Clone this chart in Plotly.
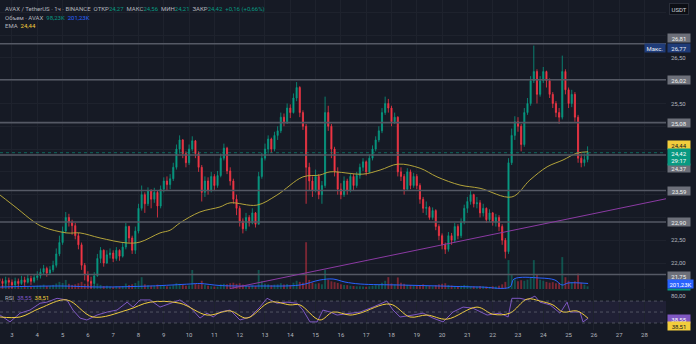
import plotly.graph_objects as go

# ---------------- data ----------------
start_day = 2.5        # first candle: day 2, 12:00
candle_step = 0.125    # 3-hour candles, expressed in days
first_open = 21.66

closes = [
    21.60, 21.55, 21.62, 21.58, 21.52, 21.60, 21.55, 21.63, 21.58, 21.66,
    21.60, 21.68, 21.72, 21.80, 21.88, 21.78, 21.85, 21.95, 22.20, 22.45,
    22.70, 23.00, 22.90, 22.82, 22.60, 22.40, 21.95, 21.75, 21.60, 21.55,
    21.72, 22.10, 22.28, 22.00, 22.18, 22.22, 22.10, 22.28, 22.15, 22.35,
    22.80, 22.55, 22.28, 22.70, 23.20, 23.50, 23.30, 23.58, 23.40, 23.55,
    23.25, 23.62, 23.80, 23.72, 23.85, 24.10, 24.50, 24.70, 24.40, 24.20,
    24.50, 24.68, 24.40, 24.10, 23.55, 23.80, 23.60, 23.90, 23.70, 23.92,
    24.30, 24.52, 24.02, 23.80, 23.40, 23.20, 22.92, 22.75, 23.00, 22.88,
    23.10, 22.85, 23.90, 24.30, 24.50, 24.72, 24.50, 24.80, 24.90, 25.20,
    25.10, 25.40, 25.30, 25.62, 25.85, 25.30, 25.00, 24.10, 23.80, 23.60,
    23.90, 23.50, 23.70, 25.30, 25.00, 24.50, 24.00, 23.62, 23.50, 23.80,
    23.60, 23.90, 23.70, 23.92, 24.10, 24.22, 24.00, 24.30, 24.50, 24.70,
    24.90, 25.30, 25.50, 25.40, 25.10, 25.20, 24.00, 23.90, 23.62, 24.00,
    23.70, 23.90, 23.70, 23.40, 23.20, 23.22, 23.00, 23.15, 22.80, 22.60,
    22.40, 22.30, 22.60, 22.50, 22.80, 22.60, 22.90, 23.20, 23.35, 23.50,
    23.30, 23.32, 23.10, 23.20, 22.95, 23.10, 22.90, 23.00, 22.80, 22.50,
    22.25, 24.20, 24.80, 25.10, 25.00, 24.60, 25.30, 25.50, 26.00, 26.20,
    25.70, 26.00, 26.20, 26.00, 25.70, 25.50, 25.30, 25.20, 26.20, 25.80,
    25.50, 25.70, 25.20, 24.30, 24.20, 24.27, 24.42,
]
highs = [
    21.70, 21.66, 21.70, 21.68, 21.64, 21.68, 21.66, 21.72, 21.70, 21.75,
    21.72, 21.76, 21.82, 21.88, 21.96, 21.92, 21.93, 22.05, 22.32, 22.60,
    22.80, 23.12, 23.08, 22.95, 22.88, 22.66, 22.45, 22.00, 21.82, 21.70,
    21.80, 22.20, 22.35, 22.30, 22.28, 22.32, 22.28, 22.35, 22.30, 22.45,
    22.88, 22.82, 22.60, 22.80, 23.30, 23.70, 23.55, 23.66, 23.62, 23.65,
    23.60, 23.70, 23.88, 23.90, 23.95, 24.20, 24.60, 24.80, 24.72, 24.45,
    24.60, 24.78, 24.70, 24.45, 24.15, 23.90, 23.88, 24.00, 23.95, 24.02,
    24.40, 24.62, 24.55, 24.10, 23.85, 23.50, 23.25, 22.98, 23.10, 23.05,
    23.20, 23.12, 24.00, 24.42, 24.62, 24.80, 24.75, 24.88, 25.00, 25.30,
    25.28, 25.50, 25.48, 25.72, 25.97, 25.88, 25.35, 25.05, 24.20, 23.90,
    24.05, 23.95, 23.80, 25.65, 25.45, 25.05, 24.55, 24.10, 23.75, 23.90,
    23.85, 23.98, 23.95, 24.00, 24.18, 24.30, 24.25, 24.38, 24.58, 24.78,
    25.00, 25.40, 25.65, 25.60, 25.45, 25.30, 25.22, 24.10, 23.95, 24.08,
    24.05, 23.98, 23.95, 23.75, 23.45, 23.35, 23.25, 23.22, 23.18, 22.85,
    22.65, 22.45, 22.68, 22.66, 22.88, 22.85, 22.98, 23.28, 23.45, 23.58,
    23.52, 23.45, 23.38, 23.30, 23.22, 23.18, 23.12, 23.08, 23.05, 22.85,
    22.55, 24.30, 24.95, 25.22, 25.20, 25.05, 25.40, 25.62, 26.10, 26.77,
    26.25, 26.10, 26.30, 26.22, 26.05, 25.75, 25.55, 25.40, 26.55, 26.25,
    25.85, 25.80, 25.75, 25.25, 24.40, 24.40, 24.56,
]
lows = [
    21.50, 21.47, 21.50, 21.50, 21.45, 21.48, 21.47, 21.52, 21.50, 21.55,
    21.52, 21.56, 21.62, 21.66, 21.74, 21.70, 21.74, 21.80, 21.90, 22.15,
    22.40, 22.65, 22.80, 22.62, 22.52, 22.30, 21.85, 21.62, 21.50, 21.45,
    21.50, 21.70, 22.00, 21.92, 21.98, 22.10, 22.02, 22.05, 22.05, 22.12,
    22.30, 22.45, 22.20, 22.20, 22.65, 23.15, 23.10, 23.25, 23.20, 23.32,
    23.00, 23.20, 23.55, 23.60, 23.62, 23.80, 24.05, 24.40, 24.30, 24.10,
    24.15, 24.45, 24.30, 24.00, 23.35, 23.45, 23.50, 23.55, 23.60, 23.65,
    23.88, 24.25, 23.95, 23.70, 23.30, 23.05, 22.80, 22.65, 22.70, 22.80,
    22.85, 22.78, 22.85, 23.85, 24.25, 24.40, 24.42, 24.45, 24.70, 24.85,
    25.00, 25.05, 25.18, 25.28, 25.55, 25.20, 24.92, 23.30, 23.60, 23.45,
    23.55, 23.40, 23.30, 23.65, 24.90, 24.30, 23.90, 23.50, 23.40, 23.45,
    23.50, 23.55, 23.60, 23.65, 23.85, 24.02, 23.92, 23.98, 24.25, 24.45,
    24.65, 24.85, 25.25, 25.30, 25.00, 25.05, 23.90, 23.80, 23.50, 23.58,
    23.62, 23.65, 23.62, 23.30, 23.10, 23.05, 22.95, 22.95, 22.72, 22.50,
    22.30, 22.20, 22.25, 22.40, 22.45, 22.52, 22.55, 22.85, 23.10, 23.28,
    23.22, 23.20, 23.00, 23.02, 22.88, 22.90, 22.82, 22.80, 22.70, 22.40,
    22.10, 22.20, 24.15, 24.70, 24.88, 24.45, 24.55, 25.25, 25.45, 25.95,
    25.50, 25.65, 25.95, 25.85, 25.62, 25.40, 25.20, 25.05, 25.15, 25.70,
    25.40, 25.42, 25.10, 24.20, 24.10, 24.12, 24.21,
]
volumes_k = [
    90, 140, 170, 110, 80, 100, 70, 90, 120, 80,
    70, 100, 120, 130, 160, 110, 120, 150, 200, 260,
    220, 330, 190, 150, 170, 210, 260, 190, 160, 180,
    140, 200, 150, 110, 120, 90, 80, 100, 90, 110,
    200, 150, 170, 220, 300, 430, 170, 140, 120, 110,
    160, 130, 120, 100, 90, 140, 210, 190, 150, 120,
    130, 690, 190, 170, 300, 160, 120, 100, 90, 90,
    170, 190, 170, 210, 230, 190, 210, 160, 120, 110,
    130, 110, 690, 280, 190, 170, 140, 160, 170, 210,
    160, 180, 150, 230, 300, 260, 230, 1700, 330, 230,
    190, 210, 170, 700, 330, 280, 250, 220, 170, 150,
    140, 120, 110, 100, 100, 90, 80, 100, 120, 140,
    170, 230, 300, 430, 200, 170, 420, 230, 190, 150,
    140, 120, 110, 150, 170, 120, 110, 100, 140, 170,
    190, 210, 150, 130, 110, 100, 120, 150, 130, 110,
    100, 90, 110, 100, 90, 80, 100, 90, 120, 170,
    260, 1050, 520, 350, 280, 320, 300, 340, 430, 1050,
    520, 340, 300, 260, 230, 250, 210, 230, 1160, 430,
    300, 250, 280, 560, 230, 160, 98.23,
]

# EMA on price (day, value)
ema_points = [
    (2.53, 23.49), (3.20, 23.20), (3.83, 22.92), (4.23, 22.79), (5.17, 22.66),
    (5.69, 22.66), (6.48, 22.55), (7.55, 22.44), (8.06, 22.46), (8.85, 22.66),
    (9.25, 22.72), (9.64, 22.88), (10.43, 23.12), (11.22, 23.23), (11.62, 23.32),
    (12.68, 23.27), (13.47, 23.49), (14.50, 23.89), (15.17, 23.93), (15.57, 24.00),
    (16.87, 23.95), (17.55, 24.04), (18.26, 24.17), (19.13, 24.08), (19.80, 23.89),
    (20.71, 23.71), (21.50, 23.64), (22.76, 23.45), (23.47, 23.82), (24.15, 24.11),
    (24.78, 24.26), (25.33, 24.41), (25.77, 24.44),
]
# volume moving average (day, thousands)
vol_ma_points = [
    (2.53, 73), (4.90, 109), (6.48, 73), (8.46, 109), (10.04, 182), (10.43, 200),
    (11.22, 127), (12.80, 109), (14.38, 145), (15.17, 327), (15.69, 363),
    (16.16, 254), (16.76, 182), (18.34, 145), (19.92, 109), (21.50, 73),
    (22.68, 73), (22.84, 363), (23.87, 400), (24.46, 327), (24.74, 145),
    (24.98, 218), (25.77, 201.23),
]
# RSI (day, value)
rsi_points = [
    (2.53, 44.5), (2.92, 32), (3.32, 48), (3.71, 53.6), (4.11, 66), (4.38, 68),
    (4.78, 75), (5.17, 72), (5.41, 53.6), (5.69, 39), (5.96, 35.5), (6.36, 44.5),
    (6.76, 50), (7.15, 53.6), (7.55, 68), (7.78, 59), (8.06, 72), (8.46, 72),
    (8.85, 59), (9.25, 66), (9.64, 72), (10.04, 59), (10.43, 39), (10.71, 48),
    (10.95, 41), (11.22, 50), (11.62, 53.6), (12.01, 35.5), (12.41, 41), (12.80, 59),
    (13.08, 75), (13.47, 66), (13.87, 68), (14.27, 66), (14.50, 53.6), (14.78, 32),
    (15.06, 32), (15.29, 53.6), (15.57, 50), (15.85, 44.5), (16.36, 48), (16.76, 50),
    (17.27, 59), (17.82, 70), (18.06, 53.6), (18.34, 41), (18.85, 44.5), (19.25, 48),
    (19.64, 39), (20.04, 32), (20.43, 50), (20.83, 59), (21.22, 57), (21.78, 44.5),
    (22.29, 48), (22.61, 41), (22.76, 75), (23.08, 75), (23.36, 72), (23.67, 79),
    (23.87, 68), (24.27, 63), (24.66, 48), (24.94, 68), (25.06, 50), (25.45, 50),
    (25.57, 32), (25.77, 38.55),
]
rsi_ma_points = [
    (2.53, 41), (3.32, 41), (4.11, 57), (5.17, 72), (6.20, 41), (7.55, 53.6),
    (8.46, 68), (9.64, 66), (10.71, 44.5), (11.62, 52), (12.29, 39), (13.20, 68),
    (13.99, 63), (14.38, 63), (15.17, 35.5), (15.69, 50), (16.36, 44.5), (16.76, 48),
    (17.94, 64.5), (18.73, 41), (19.40, 44.5), (20.19, 37), (21.38, 59), (22.01, 46),
    (22.68, 48), (23.36, 73.6), (23.87, 70), (24.38, 63), (24.78, 50), (25.33, 52),
    (25.77, 38.51),
]

levels = [26.81, 26.02, 25.08, 24.37, 23.59, 22.90, 21.75]
session_high = 26.77
trend_days = [11.62, 28.85]
trend_vals = [21.44, 23.41]

price_ticks = [22.0, 22.5, 23.0, 23.5, 24.0, 24.5, 25.0, 25.5, 26.0, 26.5, 27.0, 27.5]
price_ticks_shown = [22.0, 22.5, 25.5, 26.5]
date_ticks = list(range(3, 29))

# ---------------- style ----------------
BG = "#161a25"
GRID = "#1e222d"
TXT = "#b2b5be"
GREEN = "#089981"
RED = "#f23645"
BLUE = "#2962ff"
PURPLE = "#7e57c2"
YELLOW = "#f2cd3c"
EMA_COL = "#b3a33a"
LEVEL_COL = "#555965"
FONT = "Roboto"


def fmt(v):
    return f"{v:.2f}".replace(".", ",")


opens = [first_open] + closes[:-1]
days = [start_day + i * candle_step for i in range(len(closes))]
vol_colors = ["rgba(8,153,129,0.45)" if c >= o else "rgba(242,54,69,0.45)"
              for o, c in zip(opens, closes)]

fig = go.Figure()

fig.add_trace(go.Bar(
    x=days, y=volumes_k, marker=dict(color=vol_colors, line=dict(width=0)),
    width=candle_step * 0.6, xaxis="x", yaxis="y3", hoverinfo="skip"))
fig.add_trace(go.Scatter(
    x=[p[0] for p in vol_ma_points], y=[p[1] for p in vol_ma_points],
    mode="lines", line=dict(color=BLUE, width=1, shape="spline"),
    xaxis="x", yaxis="y3", hoverinfo="skip"))

fig.add_trace(go.Candlestick(
    x=days, open=opens, high=highs, low=lows, close=closes,
    increasing=dict(line=dict(color=GREEN, width=0.8), fillcolor=GREEN),
    decreasing=dict(line=dict(color=RED, width=0.8), fillcolor=RED),
    whiskerwidth=0, xaxis="x", yaxis="y", hoverinfo="skip"))

fig.add_trace(go.Scatter(
    x=[p[0] for p in ema_points], y=[p[1] for p in ema_points],
    mode="lines", line=dict(color=EMA_COL, width=1, shape="spline"),
    xaxis="x", yaxis="y", hoverinfo="skip"))

fig.add_trace(go.Scatter(
    x=[p[0] for p in rsi_points], y=[p[1] for p in rsi_points],
    mode="lines", line=dict(color=PURPLE, width=1),
    xaxis="x2", yaxis="y2", hoverinfo="skip"))
fig.add_trace(go.Scatter(
    x=[p[0] for p in rsi_ma_points], y=[p[1] for p in rsi_ma_points],
    mode="lines", line=dict(color=YELLOW, width=1, shape="spline"),
    xaxis="x2", yaxis="y2", hoverinfo="skip"))

shapes = []
# RSI band and guide lines
shapes.append(dict(type="rect", xref="paper", x0=0, x1=1, yref="y2", y0=30, y1=70,
                   fillcolor="rgba(126,87,194,0.10)", line=dict(width=0), layer="below"))
for lvl in (70, 50, 30):
    shapes.append(dict(type="line", xref="paper", x0=0, x1=1, yref="y2", y0=lvl, y1=lvl,
                       line=dict(color="rgba(120,123,134,0.55)", width=1, dash="dot")))
# horizontal support / resistance levels
for lvl in levels:
    shapes.append(dict(type="line", xref="paper", x0=0, x1=1, yref="y", y0=lvl, y1=lvl,
                       line=dict(color=LEVEL_COL, width=1.6)))
# last price line
shapes.append(dict(type="line", xref="paper", x0=0, x1=1, yref="y",
                   y0=closes[-1], y1=closes[-1],
                   line=dict(color="rgba(8,153,129,0.6)", width=1, dash="dot")))
# rising trend line
shapes.append(dict(type="line", xref="x", yref="y",
                   x0=trend_days[0], y0=trend_vals[0], x1=trend_days[1], y1=trend_vals[1],
                   line=dict(color="#8b3aa3", width=1)))

X0, X1 = 2.526, 28.85
MAIN_BOTTOM = 0.1242
RSI_TOP = 0.121

fig.update_layout(
    width=696, height=344,
    margin=dict(l=0, r=30, t=0, b=14),
    paper_bgcolor=BG, plot_bgcolor=BG,
    showlegend=False,
    boxgap=0.5,
    font=dict(family=FONT, size=6, color=TXT),
    shapes=shapes,
    xaxis=dict(domain=[0, 1], range=[X0, X1], anchor="y", tickvals=date_ticks,
               showticklabels=False, showgrid=True, gridcolor=GRID, zeroline=False,
               ticks="", rangeslider=dict(visible=False), fixedrange=True),
    yaxis=dict(domain=[MAIN_BOTTOM, 1], range=[21.43, 27.77], side="right",
               tickvals=price_ticks,
               ticktext=[fmt(t) if t in price_ticks_shown else "" for t in price_ticks],
               showgrid=True, gridcolor=GRID, zeroline=False, ticks="",
               ticklabelstandoff=4, tickfont=dict(size=6, color=TXT)),
    yaxis3=dict(overlaying="y", anchor="x", range=[0, 10500], visible=False),
    xaxis2=dict(domain=[0, 1], range=[X0, X1], anchor="y2", tickvals=date_ticks,
                ticktext=[str(d) for d in date_ticks], showgrid=True, gridcolor=GRID,
                zeroline=False, ticks="", tickfont=dict(size=6, color=TXT)),
    yaxis2=dict(domain=[0, RSI_TOP], range=[17.27, 90], side="right",
                tickvals=[80], ticktext=["80,00"], showgrid=False, zeroline=False,
                ticks="", ticklabelstandoff=4, tickfont=dict(size=6, color=TXT)),
)


def tag(y, text, bg, fg="#ffffff", yref="y", yshift=0, x=1.0015, xanchor="left", width=21):
    fig.add_annotation(x=x, xref="paper", y=y, yref=yref, text=text, showarrow=False,
                       xanchor=xanchor, yanchor="middle", bgcolor=bg, width=width,
                       font=dict(size=6, color=fg, family=FONT), borderpad=0.5,
                       yshift=yshift, align="center")


def span(color, text):
    return f"<span style='color:{color}'>{text}</span>"


# price axis tags
level_shift = {26.81: 6, 24.37: -13.5, 21.75: -1.5}
for lvl in levels:
    tag(lvl, fmt(lvl), "#6d707a", "#f0f0f0", yshift=level_shift.get(lvl, 0))
tag(session_high, "Макс.", "#1f3b78", "#e8ecf5", x=1.0, xanchor="right", width=19, yshift=-2.5)
tag(session_high, fmt(session_high), "#1f3b78", "#e8ecf5", yshift=-2.5)
tag(ema_points[-1][1], fmt(ema_points[-1][1]), YELLOW, "#131722", yshift=7)
tag(closes[-1], fmt(closes[-1]) + "<br>29:17", GREEN, "#ffffff", yshift=-4.5)
tag(volumes_k[-1], "", GREEN, yref="y3", yshift=-3)
tag(vol_ma_points[-1][1], f"{vol_ma_points[-1][1]:.2f}K".replace(".", ","), BLUE, "#ffffff",
    yref="y3", yshift=-1, width=24)
tag(rsi_points[-1][1], fmt(rsi_points[-1][1]), PURPLE, "#ffffff", yref="y2", yshift=-1)
tag(rsi_ma_points[-1][1], fmt(rsi_ma_points[-1][1]), YELLOW, "#131722", yref="y2", yshift=-8)

# currency box
fig.add_annotation(x=1.035, xref="paper", y=1 - 9 / 330, yref="paper", text="USDT",
                   showarrow=False, xanchor="right", yanchor="middle", bgcolor="#0c0e14",
                   bordercolor="#2a2e39", borderwidth=1, borderpad=1.5,
                   font=dict(size=6, color="#d1d4dc", family=FONT))

# legend header lines
NB = "\u00a0"
hdr1 = ("AVAX / TetherUS · 1ч · BINANCE" + NB * 2 +
        "ОТКР" + span(GREEN, fmt(opens[-1])) + NB * 2 +
        "МАКС" + span(GREEN, fmt(highs[-1])) + NB * 2 +
        "МИН" + span(GREEN, fmt(lows[-1])) + NB * 2 +
        "ЗАКР" + span(GREEN, fmt(closes[-1])) + NB * 2 +
        span(GREEN, "+0,16 (+0,66%)"))
hdr2 = ("Объем · AVAX" + NB * 2 + span(GREEN, f"{volumes_k[-1]:.2f}K".replace(".", ",")) +
        NB * 2 + span(BLUE, f"{vol_ma_points[-1][1]:.2f}K".replace(".", ",")))
hdr3 = "EMA" + NB * 2 + span(YELLOW, fmt(ema_points[-1][1]))
hdr_rsi = ("RSI" + NB * 2 + span(PURPLE, fmt(rsi_points[-1][1])) + NB * 2 +
           span(YELLOW, fmt(rsi_ma_points[-1][1])))
for text, py in ((hdr1, 9), (hdr2, 17), (hdr3, 25), (hdr_rsi, 297)):
    fig.add_annotation(x=0.005, xref="paper", y=1 - py / 330, yref="paper", text=text,
                       showarrow=False, xanchor="left", yanchor="middle",
                       font=dict(size=6, color=TXT, family=FONT))

fig.write_html("out.html")
